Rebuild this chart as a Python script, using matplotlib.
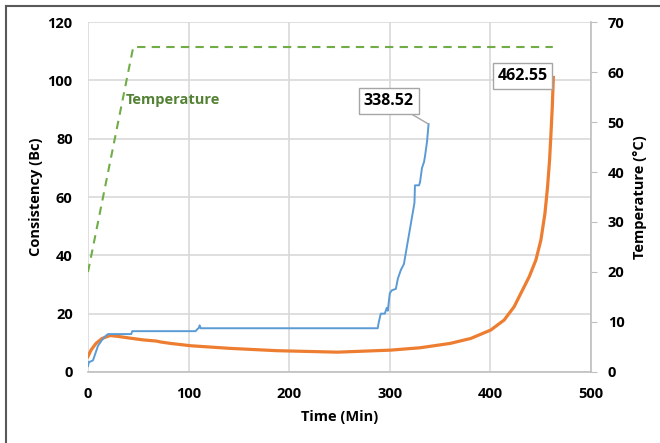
import matplotlib
matplotlib.use("Agg")
import matplotlib.pyplot as plt
from matplotlib.lines import Line2D

plt.rcParams['font.family'] = ['Open Sans', 'DejaVu Sans']
plt.rcParams['font.weight'] = 'bold'

# consistency, first slurry (blue)
t_blue = [0, 1, 2, 5, 7, 10, 14, 18, 20, 43, 44, 107, 109, 110, 111, 112,
          288, 289, 291, 295, 296, 297, 298, 300, 302, 306, 308, 311, 314,
          316, 318, 321, 323, 324.5, 325, 329, 330, 332, 334, 335, 337, 338.52]
bc_blue = [2, 3.5, 3.5, 4, 6, 9, 11, 12.5, 13, 13, 14, 14, 14.8, 15, 16, 15,
           15, 17, 20, 20, 21, 22, 21, 27, 28, 28.5, 32, 35, 37,
           41, 45, 51, 55, 58, 64, 64, 65, 70, 72, 74, 79, 85]

# consistency, second slurry (orange)
t_orange = [0, 3, 8, 14, 22, 30, 42, 55, 68, 72, 82, 102, 141, 188, 248, 301,
            330, 360, 380.5, 400.4, 413.6, 423.6, 430.3, 438.6, 445.2, 450.2,
            454.2, 456.8, 458.8, 460.2, 461.5, 462.55]
bc_orange = [5.3, 7.5, 9.8, 11.5, 12.5, 12.2, 11.6, 11, 10.6, 10.3, 9.8, 9.0,
             8.1, 7.3, 6.8, 7.5, 8.3, 9.8, 11.5, 14.4, 17.8, 22.4, 27, 32.7,
             38.4, 45.3, 54.4, 63.5, 72.7, 81.8, 91, 101]

# temperature ramp
t_temp = [0, 45, 462]
temp = [20, 65, 65]

blue = '#5B9BD5'
orange = '#ED7D31'
green = '#70AD47'
grid_c = '#D9D9D9'

fig = plt.figure(figsize=(6.6, 4.43), dpi=100)
ax = fig.add_axes([0.1333, 0.1603, 0.7622, 0.79])
ax2 = ax.twinx()

ax.plot(t_orange, bc_orange, color=orange, lw=2.3, zorder=3)
ax.plot(t_blue, bc_blue, color=blue, lw=1.4, zorder=4)
ax2.plot(t_temp, temp, color=green, lw=1.5, dashes=(4, 3))

ax.set_xlim(0, 500)
ax.set_ylim(0, 120)
ax2.set_ylim(0, 70)
ax.set_xticks(range(0, 501, 100))
ax.set_yticks(range(0, 121, 20))
ax2.set_yticks(range(0, 71, 10))

ax.grid(True, color=grid_c, lw=1.2)
ax.set_axisbelow(True)
for a in (ax, ax2):
    for s in ('top', 'left'):
        a.spines[s].set_visible(False)
    a.spines['bottom'].set_color('#BFBFBF')
    a.spines['right'].set_color('#BFBFBF')
ax.spines['right'].set_visible(False)
ax2.spines['bottom'].set_visible(False)
ax2.spines['right'].set_linewidth(1.2)
ax.spines['bottom'].set_linewidth(1.2)

ax.tick_params(axis='both', length=0, labelsize=10.5, colors='#000000')
ax.tick_params(axis='y', pad=11)
ax.tick_params(axis='x', pad=11)
ax2.tick_params(axis='y', length=4, color='#BFBFBF', labelsize=10.5, pad=8)

ax.set_xlabel('Time (Min)', fontsize=10.5, fontweight='bold', labelpad=6)
ax.set_ylabel('Consistency (Bc)', fontsize=10.5, fontweight='bold', labelpad=3)
ax2.set_ylabel('Temperature (°C)', fontsize=10.5, fontweight='bold', labelpad=6)

ax2.text(38, 54.5, 'Temperature', color='#548235', fontsize=10.5, fontweight='bold',
         va='center', ha='left')

box = dict(boxstyle='square,pad=0.3', fc='white', ec='#A6A6A6', lw=1)
arrow = dict(arrowstyle='-', color='#A6A6A6', lw=1, shrinkA=0, shrinkB=0)
ax.annotate(f'{t_blue[-1]:.2f}', xy=(t_blue[-1], bc_blue[-1]), xytext=(299, 93),
            fontsize=11.5, fontweight='bold', ha='center', va='center',
            bbox=box, arrowprops=arrow, zorder=6)
ax.annotate(f'{t_orange[-1]:.2f}', xy=(t_orange[-1], bc_orange[-1]), xytext=(432, 101.5),
            fontsize=11.5, fontweight='bold', ha='center', va='center',
            bbox=box, arrowprops=arrow, zorder=6)

# outer frame (cropped on the right and bottom)
fx = 6 / 660
fy = 1 - 6 / 443
fig.add_artist(Line2D([fx, fx], [0, fy], color='#595959', lw=1.5, transform=fig.transFigure))
fig.add_artist(Line2D([fx, 1], [fy, fy], color='#595959', lw=1.5, transform=fig.transFigure))

fig.savefig('out.png', dpi=100)
